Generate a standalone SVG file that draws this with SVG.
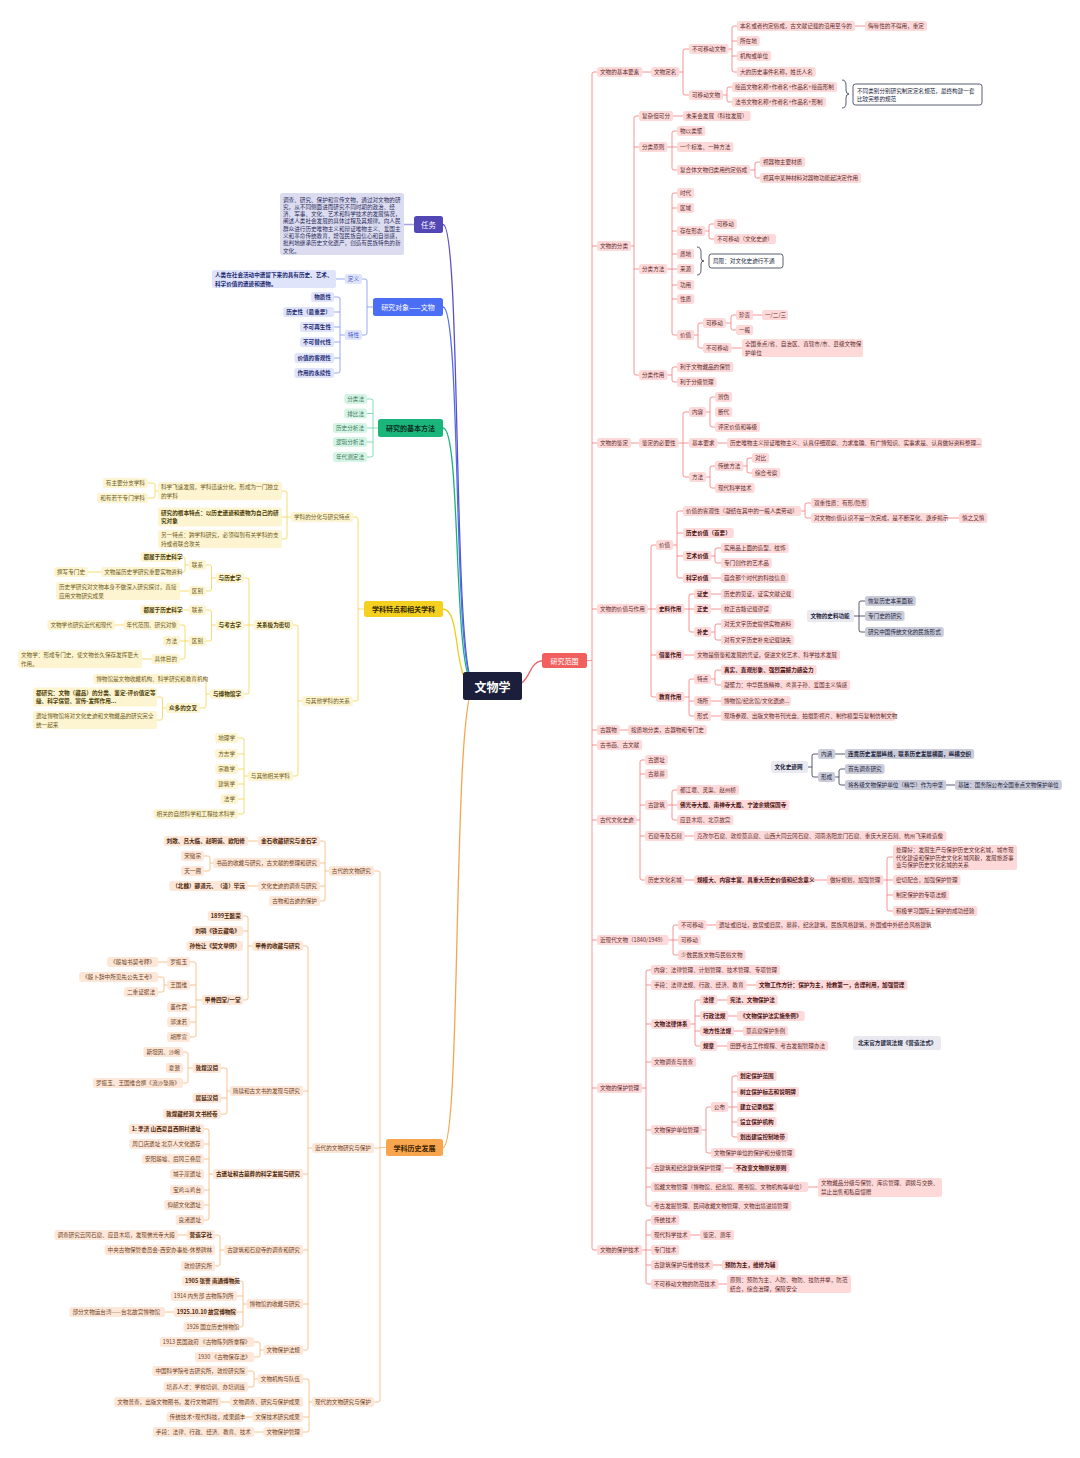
<svg xmlns="http://www.w3.org/2000/svg" width="1080" height="1458" viewBox="0 0 1080 1458">
<style>
text{font-family:"Noto Sans CJK SC","Noto Sans",sans-serif;font-size:5.6px;dominant-baseline:central}
rect{rx:2.5px}
.r rect{fill:#fdd9d9}.r text{fill:#5e2e2e}.r.b text{fill:#4a1414;font-weight:700}
.g rect{fill:#cbccd9}.g text{fill:#23263d}.g.b text{font-weight:700}.gl rect{fill:#e9e9ef}
.nt rect{fill:#fff;stroke:#2d3250;stroke-width:.8}.nt text{fill:#23263d}
.u rect{fill:#dfe4fb}.u text{fill:#1f2c72;font-weight:700}.u2 rect{fill:#dfe4fb}.u2 text{fill:#3d57c9}
.e rect{fill:#d6f4e6}.e text{fill:#3b7c5c}
.y rect{fill:#fdf4d2}.y text{fill:#6e5d22}.y.b text{fill:#4a3d05;font-weight:700}
.o rect{fill:#fde7d9}.o text{fill:#6e3f1d}.o.b text{fill:#4c2608;font-weight:700}
.pd rect{fill:#dcdcf0}.pd text{fill:#2c2c5c}
.big text{text-anchor:middle;font-weight:700}
.c path{fill:none;stroke-width:.8}
.cr{stroke:#f47878}.cn{stroke:#2d3250}.cu{stroke:#7d92f2}.ce{stroke:#64d3a3}.cy{stroke:#f2d34f}.co{stroke:#f6b673}.cp{stroke:#a7a2e6;stroke-width:1.5!important}
.m path{fill:none;stroke-width:1.3}
</style>
<rect width="1080" height="1458" fill="#fff"/>
<g id="connectors">
<g class="m">
<path d="M443,224.5C462,224.5 452,686 475,686" stroke="#5a4fc4"/>
<path d="M443,307C462,307 452,686 475,686" stroke="#4f6ef0"/>
<path d="M443,428C462,428 452,686 475,686" stroke="#19b37b"/>
<path d="M443,609C462,609 452,686 475,686" stroke="#f0cc1a"/>
<path d="M443,1147.5C462,1147.5 452,686 475,686" stroke="#f6a54e"/>
<path d="M510,686C534,686 525,660.5 545,660.5" stroke="#f26262"/>
</g>
<g class="c">
<path class="cr" d="M580,660.5H592M600,72H594Q592,72 592,74V1248Q592,1250 594,1250H600M592,246H600M592,443H600M592,609H600M592,730H600M592,745H600M592,820H600M592,940H600M592,1088H600"/>
<path class="cr" d="M602,72H654M656,72H683M692,49H685Q683,49 683,51V93Q683,95 685,95H692M694,49H732M740,26H734Q732,26 732,28V70Q732,72 734,72H740M732,41H740M732,56H740M840,26H868M694,95H727M735,87H729Q727,87 727,89V100Q727,102 729,102H735"/>
<path class="cn" d="M842,80Q846,80 846,85V90Q846,94 849,94Q846,94 846,98V103Q846,108 842,108M697,247Q701,247 701,252V258Q701,261 704,261Q701,261 701,264V270Q701,275 697,275"/>
<path class="cr" d="M602,246H634M642,116H636Q634,116 634,118V373Q634,375 636,375H642M634,147H642M634,269H642M644,116H686M644,147H672M680,131H674Q672,131 672,133V168Q672,170 674,170H680M672,147H680M682,170H755M763,162H757Q755,162 755,164V176Q755,178 757,178H763M644,269H680M680,193H674Q672,193 672,195V333Q672,335 674,335H680M672,208H680M672,231H680M672,254H680M672,285H680M672,299H680M682,231H709M717,224H711Q709,224 709,226V237Q709,239 711,239H717M682,335H698M706,323H700Q698,323 698,325V346Q698,348 700,348H706M708,323H731M739,315H733Q731,315 731,317V328Q731,330 733,330H739M741,315H765M708,348H745M644,375H672M680,367H674Q672,367 672,369V380Q672,382 674,382H680"/>
<path class="cr" d="M602,443H642M644,443H683M692,412H685Q683,412 683,414V475Q683,477 685,477H692M683,443H692M694,412H710M718,397H712Q710,397 710,399V425Q710,427 712,427H718M694,443H730M694,477H710M718,466H712Q710,466 710,468V486Q710,488 712,488H718M720,466H747M755,458H749Q747,458 747,460V471Q747,473 749,473H755"/>
<path class="cr" d="M602,609H651M659,545H653Q651,545 651,547V695Q651,697 653,697H659M651,609H659M651,655H659M661,545H677M686,511H679Q677,511 677,513V576Q677,578 679,578H686M677,533H686M677,556H686M690,511H805M814,503H807Q805,503 805,505V516Q805,518 807,518H814M816,518H962M688,556H715M724,548H717Q715,548 715,550V561Q715,563 717,563H724M688,578H724M661,609H689M697,594H691Q689,594 689,596V630Q689,632 691,632H697M689,609H697M699,594H724M699,609H724M699,632H715M724,624H717Q715,624 715,626V638Q715,640 717,640H724M661,655H697M661,697H689M697,679H691Q689,679 689,681V714Q689,716 691,716H697M689,701H697M699,679H715M724,670H717Q715,670 715,672V683Q715,685 717,685H724M699,701H724M699,716H724"/>
<path class="cn" d="M812,616H859M868,601H861Q859,601 859,603V630Q859,632 861,632H868M859,616H868"/>
<path class="cr" d="M602,730H631M602,820H640M648,760H642Q640,760 640,762V878Q640,880 642,880H648M640,774H648M640,805H648M640,836H648M650,805H672M680,790H674Q672,790 672,792V818Q672,820 674,820H680M672,805H680M650,836H697M650,880H830M832,880H887M896,857H889Q887,857 887,859V909Q887,911 889,911H896M887,880H896M887,895H896"/>
<path class="cn" d="M776,767H812M821,754H814Q812,754 812,756V775Q812,777 814,777H821M823,754H848M823,777H839M848,769H841Q839,769 839,771V783Q839,785 841,785H848M850,785H958"/>
<path class="cr" d="M602,940H673M681,925H675Q673,925 673,927V953Q673,955 675,955H681M673,940H681M683,925H719"/>
<path class="cr" d="M602,1088H646M654,970H648Q646,970 646,972V1204Q646,1206 648,1206H654M646,985H654M646,1024H654M646,1062H654M646,1130H654M646,1168H654M646,1187H654M656,985H759M656,1024H695M703,1000H697Q695,1000 695,1002V1044Q695,1046 697,1046H703M695,1016H703M695,1031H703M705,1000H730M705,1016H740M705,1031H746M705,1046H730M656,1130H706M714,1107H708Q706,1107 706,1109V1151Q706,1153 708,1153H714M716,1107H732M740,1076H734Q732,1076 732,1078V1135Q732,1137 734,1137H740M732,1092H740M732,1107H740M732,1122H740M656,1168H736M656,1187H821"/>
<path class="cr" d="M602,1250H646M654,1220H648Q646,1220 646,1222V1282Q646,1284 648,1284H654M646,1235H654M646,1250H654M646,1265H654M656,1235H703M656,1265H725M656,1284H730"/>
<path class="cp" d="M395,224.5H420"/>
<path class="cu" d="M380,307H367M359,279H365Q367,279 367,281V333Q367,335 365,335H359M350,279H333M350,335H340M331,297H338Q340,297 340,299V371Q340,373 338,373H331M340,312H331M340,327H331M340,342H331M340,358H331"/>
<path class="ce" d="M385,428H373M364,399H371Q373,399 373,401V455Q373,457 371,457H364M373,413.5H364M373,428H364M373,442H364"/>
<path class="cy" d="M369,609H358M350,517H356Q358,517 358,519V699Q358,701 356,701H350M296,517H287M279,491H285Q287,491 287,493V537Q287,539 285,539H279M287,517H279M163,491H155M145,483H153Q155,483 155,485V496Q155,498 153,498H145M307,701H298M290,625H296Q298,625 298,627V774Q298,776 296,776H290M258,625H249M241,578H247Q249,578 249,580V692Q249,694 247,694H241M249,625H241M220,578H211.5M203,565H209.5Q211.5,565 211.5,567V589Q211.5,591 209.5,591H203M193,565H185M177,557H183Q185,557 185,559V570Q185,572 183,572H177M105,572H85M193,591H177M220,625H211.5M203,610H209.5Q211.5,610 211.5,612V639Q211.5,641 209.5,641H203M193,610H177M193,641H185M177,625H183Q185,625 185,627V657Q185,659 183,659H177M185,641H177M128,625H112M156,659H139M214,694H206M197,679H204Q206,679 206,681V706Q206,708 204,708H197M170,708H162.5M154,697H160.5Q162.5,697 162.5,699V718Q162.5,720 160.5,720H154M252,776H244M235,738H242Q244,738 244,740V812Q244,814 242,814H235M244,754H235M244,769H235M244,784H235M244,799H235"/>
<path class="co" d="M391,1147.5H380M371,871H378Q380,871 380,873V1400Q380,1402 378,1402H371M380,1148H371M333,871H325M317,841H323Q325,841 325,843V899Q325,901 323,901H317M325,863H317M325,886H317M262,841H245M217,863H210M201,856H208Q210,856 210,858V869Q210,871 208,871H201M262,886H245M316,1148H308M300,946H306Q308,946 308,948V1348Q308,1350 306,1350H300M308,1091H300M308,1174H300M308,1250H300M308,1304H300M256,946H248M240,916H246Q248,916 248,918V998Q248,1000 246,1000H240M248,931H240M206,1000H196M187,962H194Q196,962 196,964V1035Q196,1037 194,1037H187M196,985H187M196,1007H187M196,1022H187M171,962H155M171,985H164M155,977H162Q164,977 164,979V990Q164,992 162,992H155M234,1091H227M218,1068H225Q227,1068 227,1070V1112Q227,1114 225,1114H218M227,1098H218M197,1068H188M180,1052H186Q188,1052 188,1054V1081Q188,1083 186,1083H180M217,1174H209M201,1129H207Q209,1129 209,1131V1218Q209,1220 207,1220H201M209,1144H201M209,1159H201M209,1190H201M209,1205H201M228,1250H220M212,1235H218Q220,1235 220,1237V1264Q220,1266 218,1266H212M190,1235H175M251,1304H243M234,1281H241Q243,1281 243,1283V1325Q243,1327 241,1327H234M243,1296H234M243,1312H234M178,1312H162M267,1350H260M251,1342H258Q260,1342 260,1344V1355Q260,1357 258,1357H251M316,1402H309M300,1379H307Q309,1379 309,1381V1430Q309,1432 307,1432H300M309,1417H300M262,1379H254M245,1371H252Q254,1371 254,1373V1385Q254,1387 252,1387H245M234,1402H218M256,1417H240M267,1432H251"/>
</g>
</g>

<g id="n-center" class="big"><rect x="463" y="672" width="59" height="28" rx="4" fill="#1c1f3b"/><text x="492.5" y="686" style="font-size:12px;fill:#fff">文物学</text></g>
<g id="n-scope" class="big"><rect x="542" y="653" width="45" height="15" fill="#f25f5f"/><text x="564.5" y="660.5" style="font-size:7px;fill:#fff;font-weight:400">研究范围</text></g>
<g id="n-task" class="big"><rect x="414" y="216" width="29" height="17" fill="#5247b5"/><text x="428.5" y="224.5" style="font-size:7.5px;fill:#fff;font-weight:400">任务</text></g>
<g id="n-obj" class="big"><rect x="373" y="298" width="70" height="18" fill="#4c6ef5"/><text x="408" y="307" style="font-size:7px;fill:#fff;font-weight:400">研究对象——文物</text></g>
<g id="n-meth" class="big"><rect x="378" y="419" width="65" height="18" fill="#19b57b"/><text x="410.5" y="428" style="font-size:7px;fill:#0e2f22">研究的基本方法</text></g>
<g id="n-feat" class="big"><rect x="364" y="601" width="79" height="16" fill="#f5d11f"/><text x="403.5" y="609" style="font-size:7px;fill:#2f2600">学科特点和相关学科</text></g>
<g id="n-hist" class="big"><rect x="386" y="1139" width="57" height="17" fill="#f8a64d"/><text x="414.5" y="1147.5" style="font-size:7px;fill:#3b2300">学科历史发展</text></g>

<g id="n-taskdesc" class="pd"><rect x="280" y="193" width="124" height="62"/><text x="283"><tspan x="283" y="199.5">调查、研究、保护和宣传文物，通过对文物的研</tspan><tspan x="283" y="206.8">究，从不同侧面进而研究不同时期的政治、经</tspan><tspan x="283" y="214.1">济、军事、文化、艺术和科学技术的发展情况，</tspan><tspan x="283" y="221.4">阐述人类社会发展的具体过程及其规律。向人民</tspan><tspan x="283" y="228.7">群众进行历史唯物主义和辩证唯物主义、爱国主</tspan><tspan x="283" y="236">义和革命传统教育，增强民族自信心和自豪感，</tspan><tspan x="283" y="243.3">批判地继承历史文化遗产，创造有民族特色的新</tspan><tspan x="283" y="250.6">文化。</tspan></text></g>

<g id="u1" class="u2"><rect x="344.8" y="274" width="17.2" height="10"/><text x="347.8" y="279">定义</text></g>
<g id="u2" class="u"><rect x="212" y="270" width="124" height="18"/><text><tspan x="215" y="275">人类在社会活动中遗留下来的具有历史、艺术、</tspan><tspan x="215" y="283.5">科学价值的遗迹和遗物。</tspan></text></g>
<g id="u3" class="u2"><rect x="344.8" y="330" width="17.2" height="10"/><text x="347.8" y="335">特性</text></g>
<g id="u4" class="u"><rect x="311.2" y="292" width="22.8" height="10"/><text x="314.2" y="297">物质性</text></g>
<g id="u5" class="u"><rect x="283.2" y="307" width="50.8" height="10"/><text x="286.2" y="312">历史性（最重要）</text></g>
<g id="u6" class="u"><rect x="300" y="322" width="34" height="10"/><text x="303" y="327">不可再生性</text></g>
<g id="u7" class="u"><rect x="300" y="337" width="34" height="10"/><text x="303" y="342">不可替代性</text></g>
<g id="u8" class="u"><rect x="294.4" y="353" width="39.6" height="10"/><text x="297.4" y="358">价值的客观性</text></g>
<g id="u9" class="u"><rect x="294.4" y="368" width="39.6" height="10"/><text x="297.4" y="373">作用的永续性</text></g>

<g id="e1" class="e"><rect x="344.2" y="394" width="22.8" height="10"/><text x="347.2" y="399">分类法</text></g>
<g id="e2" class="e"><rect x="344.2" y="408.5" width="22.8" height="10"/><text x="347.2" y="413.5">排比法</text></g>
<g id="e3" class="e"><rect x="333" y="423" width="34" height="10"/><text x="336" y="428">历史分析法</text></g>
<g id="e4" class="e"><rect x="333" y="437" width="34" height="10"/><text x="336" y="442">逻辑分析法</text></g>
<g id="e5" class="e"><rect x="333" y="452" width="34" height="10"/><text x="336" y="457">年代测定法</text></g>

<g id="y1" class="y"><rect x="291" y="512" width="62" height="10"/><text x="294" y="517">学科的分化与研究特点</text></g>
<g id="y2" class="y"><rect x="302.2" y="696" width="50.8" height="10"/><text x="305.2" y="701">与其他学科的关系</text></g>
<g id="y3" class="y"><rect x="158" y="482" width="124" height="18"/><text><tspan x="161" y="487">科学飞速发展，学科迅速分化，形成为一门独立</tspan><tspan x="161" y="495.5">的学科</tspan></text></g>
<g id="y4" class="y b"><rect x="158" y="507.5" width="124" height="19"/><text><tspan x="161" y="512.5">研究的根本特点：以历史遗迹和遗物为自己的研</tspan><tspan x="161" y="521">究对象</tspan></text></g>
<g id="y5" class="y"><rect x="158" y="530" width="124" height="18"/><text><tspan x="161" y="535">另一特点：跨学科研究，必须得到有关学科的支</tspan><tspan x="161" y="543.5">持或者联合攻关</tspan></text></g>
<g id="y6" class="y"><rect x="102.8" y="478" width="45.2" height="10"/><text x="105.8" y="483">有主要分支学科</text></g>
<g id="y7" class="y"><rect x="97.2" y="493" width="50.8" height="10"/><text x="100.2" y="498">和有若干专门学科</text></g>
<g id="y8" class="y b"><rect x="253.4" y="620" width="39.6" height="10"/><text x="256.4" y="625">关系极为密切</text></g>
<g id="y9" class="y"><rect x="247.8" y="771" width="45.2" height="10"/><text x="250.8" y="776">与其他相关学科</text></g>
<g id="y10" class="y b"><rect x="215.6" y="573" width="28.4" height="10"/><text x="218.6" y="578">与历史学</text></g>
<g id="y11" class="y b"><rect x="215.6" y="620" width="28.4" height="10"/><text x="218.6" y="625">与考古学</text></g>
<g id="y12" class="y b"><rect x="210" y="689" width="34" height="10"/><text x="213" y="694">与博物馆学</text></g>
<g id="y13" class="y"><rect x="188.8" y="560" width="17.2" height="10"/><text x="191.8" y="565">联系</text></g>
<g id="y14" class="y"><rect x="188.8" y="586" width="17.2" height="10"/><text x="191.8" y="591">区别</text></g>
<g id="y15" class="y b"><rect x="140.4" y="552" width="39.6" height="10"/><text x="143.4" y="557">都属于历史科学</text></g>
<g id="y16" class="y"><rect x="101.2" y="567" width="78.8" height="10"/><text x="104.2" y="572">文物是历史学研究重要实物资料</text></g>
<g id="y17" class="y"><rect x="54" y="567" width="34" height="10"/><text x="57" y="572">撰写专门史</text></g>
<g id="y18" class="y"><rect x="56" y="582" width="124" height="18"/><text><tspan x="59" y="587">历史学研究对文物本身不做深入研究探讨，直接</tspan><tspan x="59" y="595.5">应用文物研究成果</tspan></text></g>
<g id="y19" class="y"><rect x="188.8" y="605" width="17.2" height="10"/><text x="191.8" y="610">联系</text></g>
<g id="y20" class="y"><rect x="188.8" y="636" width="17.2" height="10"/><text x="191.8" y="641">区别</text></g>
<g id="y21" class="y b"><rect x="140.4" y="605" width="39.6" height="10"/><text x="143.4" y="610">都属于历史科学</text></g>
<g id="y22" class="y"><rect x="123.6" y="620" width="56.4" height="10"/><text x="126.6" y="625">年代范围、研究对象</text></g>
<g id="y23" class="y"><rect x="162.8" y="636" width="17.2" height="10"/><text x="165.8" y="641">方法</text></g>
<g id="y24" class="y"><rect x="151.6" y="654" width="28.4" height="10"/><text x="154.6" y="659">具体目的</text></g>
<g id="y25" class="y"><rect x="47.4" y="620" width="67.6" height="10"/><text x="50.4" y="625">文物学也研究近代和现代</text></g>
<g id="y26" class="y"><rect x="18" y="650" width="124" height="18"/><text><tspan x="21" y="655">文物学：形成专门史，使文物长久保存发挥更大</tspan><tspan x="21" y="663.5">作用。</tspan></text></g>
<g id="y27" class="y"><rect x="93.2" y="674" width="106.8" height="10"/><text x="96.2" y="679">博物馆是文物收藏机构、科学研究和教育机构</text></g>
<g id="y28" class="y b"><rect x="166" y="703" width="34" height="10"/><text x="169" y="708">众多的交叉</text></g>
<g id="y29" class="y b"><rect x="33" y="687.5" width="124" height="19"/><text><tspan x="36" y="692.5">都研究：文物（藏品）的分类、鉴定-评价值定等</tspan><tspan x="36" y="701">级、科学保管、宣传-发挥作用...</tspan></text></g>
<g id="y30" class="y"><rect x="33" y="711" width="124" height="18"/><text><tspan x="36" y="716">遗址博物馆将对文化史迹和文物藏品的研究完全</tspan><tspan x="36" y="724.5">统一起来</tspan></text></g>
<g id="y31" class="y"><rect x="215.2" y="733" width="22.8" height="10"/><text x="218.2" y="738">地理学</text></g>
<g id="y32" class="y"><rect x="215.2" y="749" width="22.8" height="10"/><text x="218.2" y="754">方志学</text></g>
<g id="y33" class="y"><rect x="215.2" y="764" width="22.8" height="10"/><text x="218.2" y="769">宗教学</text></g>
<g id="y34" class="y"><rect x="215.2" y="779" width="22.8" height="10"/><text x="218.2" y="784">建筑学</text></g>
<g id="y35" class="y"><rect x="220.8" y="794" width="17.2" height="10"/><text x="223.8" y="799">法学</text></g>
<g id="y36" class="y"><rect x="153.6" y="809" width="84.4" height="10"/><text x="156.6" y="814">相关的自然科学和工程技术科学</text></g>

<g id="o1" class="o"><rect x="328.8" y="866" width="45.2" height="10"/><text x="331.8" y="871">古代的文物研究</text></g>
<g id="o2" class="o"><rect x="312" y="1143" width="62" height="10"/><text x="315" y="1148">近代的文物研究与保护</text></g>
<g id="o3" class="o"><rect x="312" y="1397" width="62" height="10"/><text x="315" y="1402">现代的文物研究与保护</text></g>
<g id="o4" class="o b"><rect x="258" y="836" width="62" height="10"/><text x="261" y="841">金石收藏研究与金石学</text></g>
<g id="o5" class="o"><rect x="213.2" y="858" width="106.8" height="10"/><text x="216.2" y="863">书画的收藏与研究，古文献的整理和研究</text></g>
<g id="o6" class="o"><rect x="258" y="881" width="62" height="10"/><text x="261" y="886">文化史迹的调查与研究</text></g>
<g id="o7" class="o"><rect x="269.2" y="896" width="50.8" height="10"/><text x="272.2" y="901">古物和古迹的保护</text></g>
<g id="o8" class="o b"><rect x="163.6" y="836" width="84.4" height="10"/><text x="166.6" y="841">刘敞、吕大临、赵明诚、欧阳修</text></g>
<g id="o9" class="o"><rect x="181.2" y="851" width="22.8" height="10"/><text x="184.2" y="856">宋徽宗</text></g>
<g id="o10" class="o"><rect x="181.2" y="866" width="22.8" height="10"/><text x="184.2" y="871">天一阁</text></g>
<g id="o11" class="o b"><rect x="169.2" y="881" width="78.8" height="10"/><text x="172.2" y="886">（北魏）郦道元、（清）毕沅</text></g>
<g id="o12" class="o b"><rect x="252.2" y="941" width="50.8" height="10"/><text x="255.2" y="946">甲骨的收藏与研究</text></g>
<g id="o13" class="o"><rect x="229.8" y="1086" width="73.2" height="10"/><text x="232.8" y="1091">简牍和古文书的发现与研究</text></g>
<g id="o14" class="o b"><rect x="213" y="1169" width="90" height="10"/><text x="216" y="1174">古遗址和古墓葬的科学发掘与研究</text></g>
<g id="o15" class="o"><rect x="224.2" y="1245" width="78.8" height="10"/><text x="227.2" y="1250">古建筑和石窟寺的调查和研究</text></g>
<g id="o16" class="o"><rect x="246.6" y="1299" width="56.4" height="10"/><text x="249.6" y="1304">博物馆的收藏与研究</text></g>
<g id="o17" class="o"><rect x="263.4" y="1345" width="39.6" height="10"/><text x="266.4" y="1350">文物保护法规</text></g>
<g id="o18" class="o b"><rect x="207.8" y="911" width="35.2" height="10"/><text x="210.8" y="916">1899王懿荣</text></g>
<g id="o19" class="o b"><rect x="192.2" y="926" width="50.8" height="10"/><text x="195.2" y="931">刘鹗《铁云藏龟》</text></g>
<g id="o20" class="o b"><rect x="186.6" y="941" width="56.4" height="10"/><text x="189.6" y="946">孙怡让《契文举例》</text></g>
<g id="o21" class="o b"><rect x="201.8" y="995" width="41.2" height="10"/><text x="204.8" y="1000">甲骨四堂/一堂</text></g>
<g id="o22" class="o"><rect x="167.2" y="957" width="22.8" height="10"/><text x="170.2" y="962">罗振玉</text></g>
<g id="o23" class="o"><rect x="167.2" y="980" width="22.8" height="10"/><text x="170.2" y="985">王国维</text></g>
<g id="o24" class="o"><rect x="167.2" y="1002" width="22.8" height="10"/><text x="170.2" y="1007">董作宾</text></g>
<g id="o25" class="o"><rect x="167.2" y="1017" width="22.8" height="10"/><text x="170.2" y="1022">郭沫若</text></g>
<g id="o26" class="o"><rect x="167.2" y="1032" width="22.8" height="10"/><text x="170.2" y="1037">胡厚宣</text></g>
<g id="o27" class="o"><rect x="107.2" y="957" width="50.8" height="10"/><text x="110.2" y="962">《殷墟书契考释》</text></g>
<g id="o28" class="o"><rect x="79.2" y="972" width="78.8" height="10"/><text x="82.2" y="977">《殷卜辞中所见先公先王考》</text></g>
<g id="o29" class="o"><rect x="124" y="987" width="34" height="10"/><text x="127" y="992">二重证据法</text></g>
<g id="o30" class="o b"><rect x="192.6" y="1063" width="28.4" height="10"/><text x="195.6" y="1068">敦煌汉简</text></g>
<g id="o31" class="o b"><rect x="192.6" y="1093" width="28.4" height="10"/><text x="195.6" y="1098">居延汉简</text></g>
<g id="o32" class="o b"><rect x="163.1" y="1109" width="57.9" height="10"/><text x="166.1" y="1114">敦煌藏经洞 文书经卷</text></g>
<g id="o33" class="o"><rect x="143.4" y="1047" width="39.6" height="10"/><text x="146.4" y="1052">斯坦因、沙畹</text></g>
<g id="o34" class="o"><rect x="165.8" y="1063" width="17.2" height="10"/><text x="168.8" y="1068">夏鼐</text></g>
<g id="o35" class="o"><rect x="93" y="1078" width="90" height="10"/><text x="96" y="1083">罗振玉、王国维合撰《流沙坠简》</text></g>
<g id="o36" class="o b"><rect x="128.7" y="1124" width="75.3" height="10"/><text x="131.7" y="1129">1: 李济 山西夏县西阴村遗址</text></g>
<g id="o37" class="o"><rect x="129.3" y="1139" width="74.7" height="10"/><text x="132.3" y="1144">周口店遗址 北京人文化遗存</text></g>
<g id="o38" class="o"><rect x="142" y="1154" width="62" height="10"/><text x="145" y="1159">安阳殷墟、后冈三叠层</text></g>
<g id="o39" class="o"><rect x="170" y="1169" width="34" height="10"/><text x="173" y="1174">城子崖遗址</text></g>
<g id="o40" class="o"><rect x="170" y="1185" width="34" height="10"/><text x="173" y="1190">宝鸡斗鸡台</text></g>
<g id="o41" class="o"><rect x="164.4" y="1200" width="39.6" height="10"/><text x="167.4" y="1205">仰韶文化遗址</text></g>
<g id="o42" class="o"><rect x="175.6" y="1215" width="28.4" height="10"/><text x="178.6" y="1220">良渚遗址</text></g>
<g id="o43" class="o b"><rect x="186.6" y="1230" width="28.4" height="10"/><text x="189.6" y="1235">营造学社</text></g>
<g id="o44" class="o"><rect x="104.6" y="1245" width="110.4" height="10"/><text x="107.6" y="1250">中央古物保管委员会-西安办事处-休整碑林</text></g>
<g id="o45" class="o"><rect x="181" y="1261" width="34" height="10"/><text x="184" y="1266">敦煌研究所</text></g>
<g id="o46" class="o"><rect x="54.4" y="1230" width="123.6" height="10"/><text x="57.4" y="1235">调查研究云冈石窟、应县木塔，发现佛光寺大殿</text></g>
<g id="o47" class="o b"><rect x="182" y="1276" width="55" height="10"/><text x="185" y="1281">1905 张謇 南通博物苑</text></g>
<g id="o48" class="o"><rect x="170.8" y="1291" width="66.2" height="10"/><text x="173.8" y="1296">1914 内务部 古物陈列所</text></g>
<g id="o49" class="o b"><rect x="173.7" y="1307" width="63.3" height="10"/><text x="176.7" y="1312">1925.10.10 故宫博物院</text></g>
<g id="o50" class="o"><rect x="183.5" y="1322" width="53.5" height="10"/><text x="186.5" y="1327">1926 国立历史博物馆</text></g>
<g id="o51" class="o"><rect x="69.4" y="1307" width="95.6" height="10"/><text x="72.4" y="1312">部分文物运台湾——台北故宫博物馆</text></g>
<g id="o52" class="o"><rect x="159.8" y="1337" width="94.2" height="10"/><text x="162.8" y="1342">1913 民国政府 《古物陈列所章程》</text></g>
<g id="o53" class="o"><rect x="194.9" y="1352" width="59.1" height="10"/><text x="197.9" y="1357">1930 《古物保存法》</text></g>
<g id="o54" class="o"><rect x="257.8" y="1374" width="45.2" height="10"/><text x="260.8" y="1379">文物机构与队伍</text></g>
<g id="o55" class="o"><rect x="229.8" y="1397" width="73.2" height="10"/><text x="232.8" y="1402">文物调查、研究与保护成果</text></g>
<g id="o56" class="o"><rect x="252.2" y="1412" width="50.8" height="10"/><text x="255.2" y="1417">文保技术研究成果</text></g>
<g id="o57" class="o"><rect x="263.4" y="1427" width="39.6" height="10"/><text x="266.4" y="1432">文物保护管理</text></g>
<g id="o58" class="o"><rect x="152.4" y="1366" width="95.6" height="10"/><text x="155.4" y="1371">中国科学院考古研究所，敦煌研究院</text></g>
<g id="o59" class="o"><rect x="163.6" y="1382" width="84.4" height="10"/><text x="166.6" y="1387">培养人才：学校培训、办培训班</text></g>
<g id="o60" class="o"><rect x="114.2" y="1397" width="106.8" height="10"/><text x="117.2" y="1402">文物普查，出版文物图书，发行文物期刊</text></g>
<g id="o61" class="o"><rect x="166.6" y="1412" width="76.4" height="10"/><text x="169.6" y="1417">传统技术+现代科技，成果颇丰</text></g>
<g id="o62" class="o"><rect x="152.8" y="1427" width="101.2" height="10"/><text x="155.8" y="1432">手段：法律、行政、经济、教育、技术</text></g>

<g id="r1" class="r"><rect x="597" y="67" width="45.2" height="10"/><text x="600" y="72">文物的基本要素</text></g>
<g id="r2" class="r"><rect x="651" y="67" width="28.4" height="10"/><text x="654" y="72">文物定名</text></g>
<g id="r3" class="r"><rect x="689" y="44" width="39.6" height="10"/><text x="692" y="49">不可移动文物</text></g>
<g id="r4" class="r"><rect x="737" y="21" width="118" height="10"/><text x="740" y="26">本名或者约定俗成，古文献记载的沿用至今的</text></g>
<g id="r5" class="r"><rect x="865" y="21" width="62" height="10"/><text x="868" y="26">侮辱性的不得用，重定</text></g>
<g id="r6" class="r"><rect x="737" y="36" width="22.8" height="10"/><text x="740" y="41">所在地</text></g>
<g id="r7" class="r"><rect x="737" y="51" width="34" height="10"/><text x="740" y="56">机构或单位</text></g>
<g id="r8" class="r"><rect x="737" y="67" width="78.8" height="10"/><text x="740" y="72">大的历史事件名称，姓氏人名</text></g>
<g id="r9" class="r"><rect x="689" y="90" width="34" height="10"/><text x="692" y="95">可移动文物</text></g>
<g id="r10" class="r"><rect x="732" y="82" width="105.2" height="10"/><text x="735" y="87">绘画文物名称+作者名+作品名+绘画形制</text></g>
<g id="r11" class="r"><rect x="732" y="97" width="94" height="10"/><text x="735" y="102">法书文物名称+作者名+作品名+形制</text></g>
<g id="note1" class="nt"><rect x="853" y="84" width="129" height="21"/><text><tspan x="857" y="90.5">不同类别分别研究制定定名规范，最终构建一套</tspan><tspan x="857" y="98.5">比较完整的规范</tspan></text></g>

<g id="r12" class="r"><rect x="597" y="241" width="34" height="10"/><text x="600" y="246">文物的分类</text></g>
<g id="r13" class="r"><rect x="639" y="111" width="34" height="10"/><text x="642" y="116">复杂但可分</text></g>
<g id="r14" class="r"><rect x="683" y="111" width="67.6" height="10"/><text x="686" y="116">未来会发展（科技发展）</text></g>
<g id="r15" class="r"><rect x="639" y="142" width="28.4" height="10"/><text x="642" y="147">分类原则</text></g>
<g id="r16" class="r"><rect x="677" y="126" width="28.4" height="10"/><text x="680" y="131">物以类聚</text></g>
<g id="r17" class="r"><rect x="677" y="142" width="56.4" height="10"/><text x="680" y="147">一个标准、一种方法</text></g>
<g id="r18" class="r"><rect x="677" y="165" width="73.2" height="10"/><text x="680" y="170">复合体文物归类用约定俗成</text></g>
<g id="r19" class="r"><rect x="760" y="157" width="45.2" height="10"/><text x="763" y="162">视器物主要材质</text></g>
<g id="r20" class="r"><rect x="760" y="173" width="101.2" height="10"/><text x="763" y="178">视其中某种材料对器物功能起决定作用</text></g>
<g id="r21" class="r"><rect x="639" y="264" width="28.4" height="10"/><text x="642" y="269">分类方法</text></g>
<g id="r22" class="r"><rect x="677" y="188" width="17.2" height="10"/><text x="680" y="193">时代</text></g>
<g id="r23" class="r"><rect x="677" y="203" width="17.2" height="10"/><text x="680" y="208">区域</text></g>
<g id="r24" class="r"><rect x="677" y="226" width="28.4" height="10"/><text x="680" y="231">存在形态</text></g>
<g id="r25" class="r"><rect x="714" y="219" width="22.8" height="10"/><text x="717" y="224">可移动</text></g>
<g id="r26" class="r"><rect x="714" y="234" width="62" height="10"/><text x="717" y="239">不可移动（文化史迹）</text></g>
<g id="r27" class="r"><rect x="677" y="249" width="17.2" height="10"/><text x="680" y="254">质地</text></g>
<g id="r28" class="r"><rect x="677" y="264" width="17.2" height="10"/><text x="680" y="269">来源</text></g>
<g id="r29" class="r"><rect x="677" y="280" width="17.2" height="10"/><text x="680" y="285">功用</text></g>
<g id="r30" class="r"><rect x="677" y="294" width="17.2" height="10"/><text x="680" y="299">性质</text></g>
<g id="note2" class="nt"><rect x="709" y="254" width="74" height="14"/><text x="713" y="261">局限：对文化史迹行不通</text></g>
<g id="r31" class="r"><rect x="677" y="330" width="17.2" height="10"/><text x="680" y="335">价值</text></g>
<g id="r32" class="r"><rect x="703" y="318" width="22.8" height="10"/><text x="706" y="323">可移动</text></g>
<g id="r33" class="r"><rect x="736" y="310" width="17.2" height="10"/><text x="739" y="315">珍贵</text></g>
<g id="r34" class="r"><rect x="762" y="310" width="26" height="10"/><text x="765" y="315">一/二/三</text></g>
<g id="r35" class="r"><rect x="736" y="325" width="17.2" height="10"/><text x="739" y="330">一般</text></g>
<g id="r36" class="r"><rect x="703" y="343" width="28.4" height="10"/><text x="706" y="348">不可移动</text></g>
<g id="r37" class="r"><rect x="742" y="339" width="121" height="18"/><text><tspan x="745" y="344">全国重点/省、自治区、直辖市/市、县级文物保</tspan><tspan x="745" y="352.5">护单位</tspan></text></g>
<g id="r38" class="r"><rect x="639" y="370" width="28.4" height="10"/><text x="642" y="375">分类作用</text></g>
<g id="r39" class="r"><rect x="677" y="362" width="56.4" height="10"/><text x="680" y="367">利于文物藏品的保管</text></g>
<g id="r40" class="r"><rect x="677" y="377" width="39.6" height="10"/><text x="680" y="382">利于分级管理</text></g>

<g id="r41" class="r"><rect x="597" y="438" width="34" height="10"/><text x="600" y="443">文物的鉴定</text></g>
<g id="r42" class="r"><rect x="639" y="438" width="39.6" height="10"/><text x="642" y="443">鉴定的必要性</text></g>
<g id="r43" class="r"><rect x="689" y="407" width="17.2" height="10"/><text x="692" y="412">内容</text></g>
<g id="r44" class="r"><rect x="715" y="392" width="17.2" height="10"/><text x="718" y="397">辨伪</text></g>
<g id="r45" class="r"><rect x="715" y="407" width="17.2" height="10"/><text x="718" y="412">断代</text></g>
<g id="r46" class="r"><rect x="715" y="422" width="45.2" height="10"/><text x="718" y="427">评定价值和等级</text></g>
<g id="r47" class="r"><rect x="689" y="438" width="28.4" height="10"/><text x="692" y="443">基本要求</text></g>
<g id="r48" class="r"><rect x="727" y="438" width="255" height="10"/><text x="730" y="443">历史唯物主义辩证唯物主义、认真仔细观察、力求准确、有广博知识、实事求是、认真做好资料整理...</text></g>
<g id="r49" class="r"><rect x="689" y="472" width="17.2" height="10"/><text x="692" y="477">方法</text></g>
<g id="r50" class="r"><rect x="715" y="461" width="28.4" height="10"/><text x="718" y="466">传统方法</text></g>
<g id="r51" class="r"><rect x="752" y="453" width="17.2" height="10"/><text x="755" y="458">对比</text></g>
<g id="r52" class="r"><rect x="752" y="468" width="28.4" height="10"/><text x="755" y="473">综合考察</text></g>
<g id="r53" class="r"><rect x="715" y="483" width="39.6" height="10"/><text x="718" y="488">现代科学技术</text></g>

<g id="r54" class="r"><rect x="597" y="604" width="50.8" height="10"/><text x="600" y="609">文物的价值与作用</text></g>
<g id="r55" class="r"><rect x="656" y="540" width="17.2" height="10"/><text x="659" y="545">价值</text></g>
<g id="r56" class="r"><rect x="683" y="506" width="118" height="10"/><text x="686" y="511">价值的客观性（凝结在其中的一般人类劳动）</text></g>
<g id="r57" class="r"><rect x="811" y="498" width="58" height="10"/><text x="814" y="503">双重性质：有形/隐形</text></g>
<g id="r58" class="r"><rect x="811" y="513" width="134.8" height="10"/><text x="814" y="518">对文物价值认识不是一次完成，是不断深化、逐步揭示</text></g>
<g id="r59" class="r"><rect x="959" y="513" width="28.4" height="10"/><text x="962" y="518">慎之又慎</text></g>
<g id="r60" class="r b"><rect x="683" y="528" width="50.8" height="10"/><text x="686" y="533">历史价值（首要）</text></g>
<g id="r61" class="r b"><rect x="683" y="551" width="28.4" height="10"/><text x="686" y="556">艺术价值</text></g>
<g id="r62" class="r"><rect x="721" y="543" width="67.6" height="10"/><text x="724" y="548">实用品上面的造型、纹饰</text></g>
<g id="r63" class="r"><rect x="721" y="558" width="50.8" height="10"/><text x="724" y="563">专门创作的艺术品</text></g>
<g id="r64" class="r b"><rect x="683" y="573" width="28.4" height="10"/><text x="686" y="578">科学价值</text></g>
<g id="r65" class="r"><rect x="721" y="573" width="67.6" height="10"/><text x="724" y="578">蕴含那个时代的科技信息</text></g>
<g id="r66" class="r b"><rect x="656" y="604" width="28.4" height="10"/><text x="659" y="609">史料作用</text></g>
<g id="r67" class="r b"><rect x="694" y="589" width="17.2" height="10"/><text x="697" y="594">证史</text></g>
<g id="r68" class="r"><rect x="721" y="589" width="73.2" height="10"/><text x="724" y="594">历史的见证，证实文献记载</text></g>
<g id="r69" class="r b"><rect x="694" y="604" width="17.2" height="10"/><text x="697" y="609">正史</text></g>
<g id="r70" class="r"><rect x="721" y="604" width="50.8" height="10"/><text x="724" y="609">校正古籍记载谬误</text></g>
<g id="r71" class="r b"><rect x="694" y="627" width="17.2" height="10"/><text x="697" y="632">补史</text></g>
<g id="r72" class="r"><rect x="721" y="619" width="73.2" height="10"/><text x="724" y="624">对无文字历史提供实物资料</text></g>
<g id="r73" class="r"><rect x="721" y="635" width="73.2" height="10"/><text x="724" y="640">对有文字历史补充记载缺失</text></g>
<g id="r74" class="r b"><rect x="656" y="650" width="28.4" height="10"/><text x="659" y="655">借鉴作用</text></g>
<g id="r75" class="r"><rect x="694" y="650" width="146" height="10"/><text x="697" y="655">文物是借鉴和发展的凭证，促进文化艺术、科学技术发展</text></g>
<g id="r76" class="r b"><rect x="656" y="692" width="28.4" height="10"/><text x="659" y="697">教育作用</text></g>
<g id="r77" class="r"><rect x="694" y="674" width="17.2" height="10"/><text x="697" y="679">特点</text></g>
<g id="r78" class="r b"><rect x="721" y="665" width="95.6" height="10"/><text x="724" y="670">真实、直观形象、强烈震撼力感染力</text></g>
<g id="r79" class="r"><rect x="721" y="680" width="129.2" height="10"/><text x="724" y="685">凝聚力：中华民族精神、炎黄子孙、爱国主义情感</text></g>
<g id="r80" class="r"><rect x="694" y="696" width="17.2" height="10"/><text x="697" y="701">场所</text></g>
<g id="r81" class="r"><rect x="721" y="696" width="69.7" height="10"/><text x="724" y="701">博物馆/纪念馆/文化遗迹...</text></g>
<g id="r82" class="r"><rect x="694" y="711" width="17.2" height="10"/><text x="697" y="716">形式</text></g>
<g id="r83" class="r"><rect x="721" y="711" width="174" height="10"/><text x="724" y="716">现场参观、出版文物书刊光盘、拍摄影视片、制作模型与复制仿制文物</text></g>
<g id="g84" class="g gl b"><rect x="807" y="610" width="47" height="12"/><text x="810.5" y="616">文物的史料功能</text></g>
<g id="g85" class="g"><rect x="865" y="596" width="50.8" height="10"/><text x="868" y="601">恢复历史本来面貌</text></g>
<g id="g86" class="g"><rect x="865" y="611" width="39.6" height="10"/><text x="868" y="616">专门史的研究</text></g>
<g id="g87" class="g"><rect x="865" y="627" width="78.8" height="10"/><text x="868" y="632">研究中国传统文化的民族形式</text></g>

<g id="r88" class="r"><rect x="597" y="725" width="22.8" height="10"/><text x="600" y="730">古器物</text></g>
<g id="r89" class="r"><rect x="628" y="725" width="78.8" height="10"/><text x="631" y="730">按质地分类，古器物和专门史</text></g>
<g id="r90" class="r"><rect x="597" y="740" width="45.2" height="10"/><text x="600" y="745">古书画、古文献</text></g>
<g id="r91" class="r"><rect x="597" y="815" width="39.6" height="10"/><text x="600" y="820">古代文化史迹</text></g>
<g id="r92" class="r"><rect x="645" y="755" width="22.8" height="10"/><text x="648" y="760">古遗址</text></g>
<g id="r93" class="r"><rect x="645" y="769" width="22.8" height="10"/><text x="648" y="774">古墓葬</text></g>
<g id="r94" class="r"><rect x="645" y="800" width="22.8" height="10"/><text x="648" y="805">古建筑</text></g>
<g id="r95" class="r"><rect x="677" y="785" width="62" height="10"/><text x="680" y="790">都江堰、灵渠、赵州桥</text></g>
<g id="r96" class="r b"><rect x="677" y="800" width="112.4" height="10"/><text x="680" y="805">佛光寺大殿、南禅寺大殿、宁波余姚保国寺</text></g>
<g id="r97" class="r"><rect x="677" y="815" width="56.4" height="10"/><text x="680" y="820">应县木塔、北京故宫</text></g>
<g id="r98" class="r"><rect x="645" y="831" width="39.6" height="10"/><text x="648" y="836">石窟寺及石刻</text></g>
<g id="r99" class="r"><rect x="694" y="831" width="252.4" height="10"/><text x="697" y="836">克孜尔石窟、敦煌莫高窟、山西大同云冈石窟、河南洛阳龙门石窟、重庆大足石刻、杭州飞来峰造像</text></g>
<g id="r100" class="r"><rect x="645" y="875" width="39.6" height="10"/><text x="648" y="880">历史文化名城</text></g>
<g id="r101" class="r b"><rect x="694" y="875" width="118" height="10"/><text x="697" y="880">规模大、内容丰富、具重大历史价值和纪念意义</text></g>
<g id="r102" class="r"><rect x="827" y="875" width="56.4" height="10"/><text x="830" y="880">做好规划，加强管理</text></g>
<g id="r103" class="r"><rect x="893" y="845" width="124" height="25"/><text><tspan x="896" y="849.8">处理好：发展生产与保护历史文化名城，城市现</tspan><tspan x="896" y="857.5">代化建设和保护历史文化名城风貌，发展旅游事</tspan><tspan x="896" y="865.2">业与保护历史文化名城的关系</tspan></text></g>
<g id="r104" class="r"><rect x="893" y="875" width="67.6" height="10"/><text x="896" y="880">密切配合，加强保护管理</text></g>
<g id="r105" class="r"><rect x="893" y="890" width="56.4" height="10"/><text x="896" y="895">制定保护的专项法规</text></g>
<g id="r106" class="r"><rect x="893" y="906" width="84.4" height="10"/><text x="896" y="911">积极学习国际上保护的成功经验</text></g>
<g id="g107" class="g gl b"><rect x="771" y="761" width="37" height="12"/><text x="774.5" y="767">文化史迹网</text></g>
<g id="g108" class="g"><rect x="818" y="749" width="17.2" height="10"/><text x="821" y="754">内涵</text></g>
<g id="g109" class="g b"><rect x="845" y="749" width="129.2" height="10"/><text x="848" y="754">连贯历史发展纵线，联系历史发展横面，纵横交织</text></g>
<g id="g110" class="g"><rect x="818" y="772" width="17.2" height="10"/><text x="821" y="777">形成</text></g>
<g id="g111" class="g"><rect x="845" y="764" width="39.6" height="10"/><text x="848" y="769">首先调查研究</text></g>
<g id="g112" class="g"><rect x="845" y="780" width="101.2" height="10"/><text x="848" y="785">将各级文物保护单位（精华）作为中坚</text></g>
<g id="g113" class="g"><rect x="955" y="780" width="106.8" height="10"/><text x="958" y="785">基础：国务院公布全国重点文物保护单位</text></g>

<g id="r114" class="r"><rect x="597" y="935" width="71.6" height="10"/><text x="600" y="940">近现代文物（1840/1949）</text></g>
<g id="r115" class="r"><rect x="678" y="920" width="28.4" height="10"/><text x="681" y="925">不可移动</text></g>
<g id="r116" class="r"><rect x="716" y="920" width="213.2" height="10"/><text x="719" y="925">遗址或旧址，故居或旧居，墓葬，纪念建筑，民族风格建筑，外国或中外结合风格建筑</text></g>
<g id="r117" class="r"><rect x="678" y="935" width="22.8" height="10"/><text x="681" y="940">可移动</text></g>
<g id="r118" class="r"><rect x="678" y="950" width="67.6" height="10"/><text x="681" y="955">少数民族文物与民俗文物</text></g>

<g id="r119" class="r"><rect x="597" y="1083" width="45.2" height="10"/><text x="600" y="1088">文物的保护管理</text></g>
<g id="r120" class="r"><rect x="651" y="965" width="129.2" height="10"/><text x="654" y="970">内容：法律管理、计划管理、技术管理、专项管理</text></g>
<g id="r121" class="r"><rect x="651" y="980" width="95.6" height="10"/><text x="654" y="985">手段：法律法规、行政、经济、教育</text></g>
<g id="r122" class="r b"><rect x="756" y="980" width="151.6" height="10"/><text x="759" y="985">文物工作方针：保护为主，抢救第一，合理利用，加强管理</text></g>
<g id="r123" class="r b"><rect x="651" y="1019" width="39.6" height="10"/><text x="654" y="1024">文物法律体系</text></g>
<g id="r124" class="r b"><rect x="700" y="995" width="17.2" height="10"/><text x="703" y="1000">法律</text></g>
<g id="r125" class="r b"><rect x="727" y="995" width="50.8" height="10"/><text x="730" y="1000">宪法、文物保护法</text></g>
<g id="r126" class="r b"><rect x="700" y="1011" width="28.4" height="10"/><text x="703" y="1016">行政法规</text></g>
<g id="r127" class="r b"><rect x="737" y="1011" width="67.6" height="10"/><text x="740" y="1016">《文物保护法实施条例》</text></g>
<g id="r128" class="r b"><rect x="700" y="1026" width="34" height="10"/><text x="703" y="1031">地方性法规</text></g>
<g id="r129" class="r"><rect x="743" y="1026" width="45.2" height="10"/><text x="746" y="1031">莫高窟保护条例</text></g>
<g id="r130" class="r b"><rect x="700" y="1041" width="17.2" height="10"/><text x="703" y="1046">规章</text></g>
<g id="r131" class="r"><rect x="727" y="1041" width="101.2" height="10"/><text x="730" y="1046">田野考古工作规程、考古发掘管理办法</text></g>
<g id="g132" class="g gl b"><rect x="853" y="1036" width="88" height="14"/><text x="858" y="1043">北宋官方建筑法规《营造法式》</text></g>
<g id="r133" class="r"><rect x="651" y="1057" width="45.2" height="10"/><text x="654" y="1062">文物调查与普查</text></g>
<g id="r134" class="r"><rect x="651" y="1125" width="50.8" height="10"/><text x="654" y="1130">文物保护单位管理</text></g>
<g id="r135" class="r"><rect x="711" y="1102" width="17.2" height="10"/><text x="714" y="1107">公布</text></g>
<g id="r136" class="r b"><rect x="737" y="1071" width="39.6" height="10"/><text x="740" y="1076">划定保护范围</text></g>
<g id="r137" class="r b"><rect x="737" y="1087" width="62" height="10"/><text x="740" y="1092">树立保护标志和说明牌</text></g>
<g id="r138" class="r b"><rect x="737" y="1102" width="39.6" height="10"/><text x="740" y="1107">建立记录档案</text></g>
<g id="r139" class="r b"><rect x="737" y="1117" width="39.6" height="10"/><text x="740" y="1122">设立保护机构</text></g>
<g id="r140" class="r b"><rect x="737" y="1132" width="50.8" height="10"/><text x="740" y="1137">划出建设控制地带</text></g>
<g id="r141" class="r"><rect x="711" y="1148" width="84.4" height="10"/><text x="714" y="1153">文物保护单位的保护和分级管理</text></g>
<g id="r142" class="r"><rect x="651" y="1163" width="73.2" height="10"/><text x="654" y="1168">古建筑和纪念建筑保护管理</text></g>
<g id="r143" class="r b"><rect x="733" y="1163" width="56.4" height="10"/><text x="736" y="1168">不改变文物原状原则</text></g>
<g id="r144" class="r"><rect x="651" y="1182" width="157.2" height="10"/><text x="654" y="1187">馆藏文物管理（博物馆、纪念馆、图书馆、文物机构等单位）</text></g>
<g id="r145" class="r"><rect x="818" y="1178" width="124" height="19"/><text><tspan x="821" y="1183">文物藏品分级与保管、库房管理、调拨与交换、</tspan><tspan x="821" y="1191.8">禁止出售和私自馈赠</tspan></text></g>
<g id="r146" class="r"><rect x="651" y="1201" width="140.4" height="10"/><text x="654" y="1206">考古发掘管理、民间收藏文物管理、文物出境进境管理</text></g>

<g id="r147" class="r"><rect x="597" y="1245" width="45.2" height="10"/><text x="600" y="1250">文物的保护技术</text></g>
<g id="r148" class="r"><rect x="651" y="1215" width="28.4" height="10"/><text x="654" y="1220">传统技术</text></g>
<g id="r149" class="r"><rect x="651" y="1230" width="39.6" height="10"/><text x="654" y="1235">现代科学技术</text></g>
<g id="r150" class="r"><rect x="700" y="1230" width="34" height="10"/><text x="703" y="1235">鉴定、测年</text></g>
<g id="r151" class="r"><rect x="651" y="1245" width="28.4" height="10"/><text x="654" y="1250">专门技术</text></g>
<g id="r152" class="r"><rect x="651" y="1260" width="62" height="10"/><text x="654" y="1265">古建筑保护与维修技术</text></g>
<g id="r153" class="r b"><rect x="722" y="1260" width="56.4" height="10"/><text x="725" y="1265">预防为主，维修为辅</text></g>
<g id="r154" class="r"><rect x="651" y="1279" width="67.6" height="10"/><text x="654" y="1284">不可移动文物的防范技术</text></g>
<g id="r155" class="r"><rect x="727" y="1275" width="124" height="18"/><text><tspan x="730" y="1280">原则：预防为主、人防、物防、技防并举，防范</tspan><tspan x="730" y="1288.5">结合，综合治理，保障安全</tspan></text></g>
</svg>
